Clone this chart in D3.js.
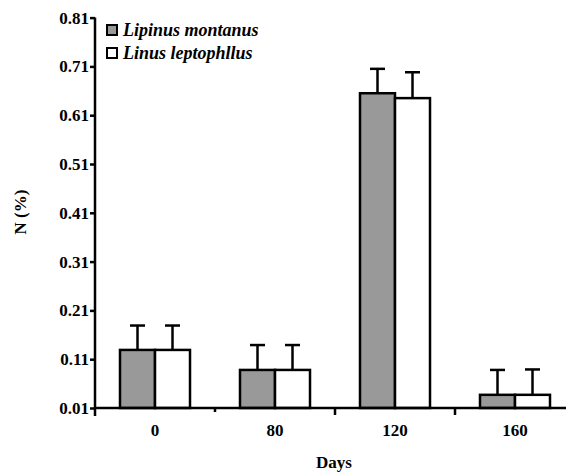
<!DOCTYPE html>
<html>
<head>
<meta charset="utf-8">
<script src="https://cdn.jsdelivr.net/npm/d3@7"></script>
<style>
  body { margin: 0; background: #fff; }
</style>
</head>
<body>
<script>
const width = 566;
const height = 475;
const serif = "Liberation Serif";

// data
const days = ["0", "80", "120", "160"];
const series = ["Lipinus montanus", "Linus leptophllus"];
const montanus = [0.129, 0.088, 0.655, 0.037];
const leptophllus = [0.129, 0.088, 0.645, 0.037];
const montanusErr = [0.050, 0.051, 0.050, 0.051];
const leptophllusErr = [0.050, 0.051, 0.053, 0.052];
const yTicks = [0.01, 0.11, 0.21, 0.31, 0.41, 0.51, 0.61, 0.71, 0.81];
const colors = ["#999999", "#ffffff"];

const values = [montanus, leptophllus];
const errors = [montanusErr, leptophllusErr];

const svg = d3.select("body").append("svg")
    .attr("width", width)
    .attr("height", height)
    .attr("font-family", serif)
    .attr("font-weight", "bold")
    .attr("font-size", 17);

const x0 = d3.scaleBand().domain(days).range([95, 575]).padding(0);
const x1 = d3.scaleBand().domain(series).range([0, x0.bandwidth()])
    .paddingInner(0).paddingOuter(0.714);
const y = d3.scaleLinear().domain([0.01, 0.81]).range([408, 17.6]);

// bars
days.forEach((d, i) => {
    const g = svg.append("g").attr("transform", `translate(${x0(d)},0)`);
    series.forEach((s, j) => {
        const v = values[j][i];
        const e = errors[j][i];
        const cx = x1(s) + x1.bandwidth() / 2;
        g.append("line")
            .attr("x1", cx).attr("x2", cx)
            .attr("y1", y(v)).attr("y2", y(v + e))
            .attr("stroke", "#000").attr("stroke-width", 2.5);
        g.append("line")
            .attr("x1", cx - 7.5).attr("x2", cx + 7.5)
            .attr("y1", y(v + e)).attr("y2", y(v + e))
            .attr("stroke", "#000").attr("stroke-width", 2.5);
        g.append("rect")
            .attr("x", x1(s))
            .attr("y", y(v))
            .attr("width", x1.bandwidth())
            .attr("height", y(0.01) - y(v))
            .attr("fill", colors[j])
            .attr("stroke", "#000")
            .attr("stroke-width", 2.5);
    });
});

// y axis
const yAxis = svg.append("g")
    .attr("transform", "translate(95,0)")
    .call(d3.axisLeft(y).tickValues(yTicks).tickFormat(d3.format(".2f")).tickSize(5).tickSizeOuter(0))
    .attr("font-family", serif)
    .attr("font-size", 17);
yAxis.select(".domain").attr("stroke-width", 2.5).attr("d", "M0,17.6V416");
yAxis.selectAll(".tick line").attr("stroke-width", 2.5);
yAxis.selectAll(".tick text")
    .attr("x", -6)
    .attr("font-family", serif)
    .attr("font-size", 17)
    .attr("font-weight", "bold")
    .attr("fill", "#000");

// x axis
svg.append("line")
    .attr("x1", 95).attr("x2", width)
    .attr("y1", y(0.01)).attr("y2", y(0.01))
    .attr("stroke", "#000").attr("stroke-width", 2.5);

const tickLen = [0, 4, 7, 7];
days.forEach((d, i) => {
    if (i > 0) {
        svg.append("line")
            .attr("x1", x0(d)).attr("x2", x0(d))
            .attr("y1", y(0.01)).attr("y2", y(0.01) + tickLen[i])
            .attr("stroke", "#000").attr("stroke-width", 2.5);
    }
    svg.append("text")
        .attr("x", x0(d) + x0.bandwidth() / 2)
        .attr("y", 436)
        .attr("text-anchor", "middle")
        .attr("font-family", serif)
        .text(d);
});

// axis titles
svg.append("text")
    .attr("x", 334).attr("y", 468)
    .attr("text-anchor", "middle")
    .attr("font-family", serif)
    .text("Days");

svg.append("text")
    .attr("transform", "translate(26,212) rotate(-90)")
    .attr("text-anchor", "middle")
    .attr("font-family", serif)
    .text("N (%)");

// legend
const legend = svg.append("g");
series.forEach((s, j) => {
    legend.append("rect")
        .attr("x", 107).attr("y", 25 + j * 23)
        .attr("width", 10).attr("height", 10)
        .attr("fill", colors[j])
        .attr("stroke", "#000").attr("stroke-width", 2);
    legend.append("text")
        .attr("x", 123).attr("y", 36 + j * 23)
        .attr("font-family", serif)
        .attr("font-size", 18)
        .attr("font-style", "italic")
        .text(s);
});
</script>
</body>
</html>
